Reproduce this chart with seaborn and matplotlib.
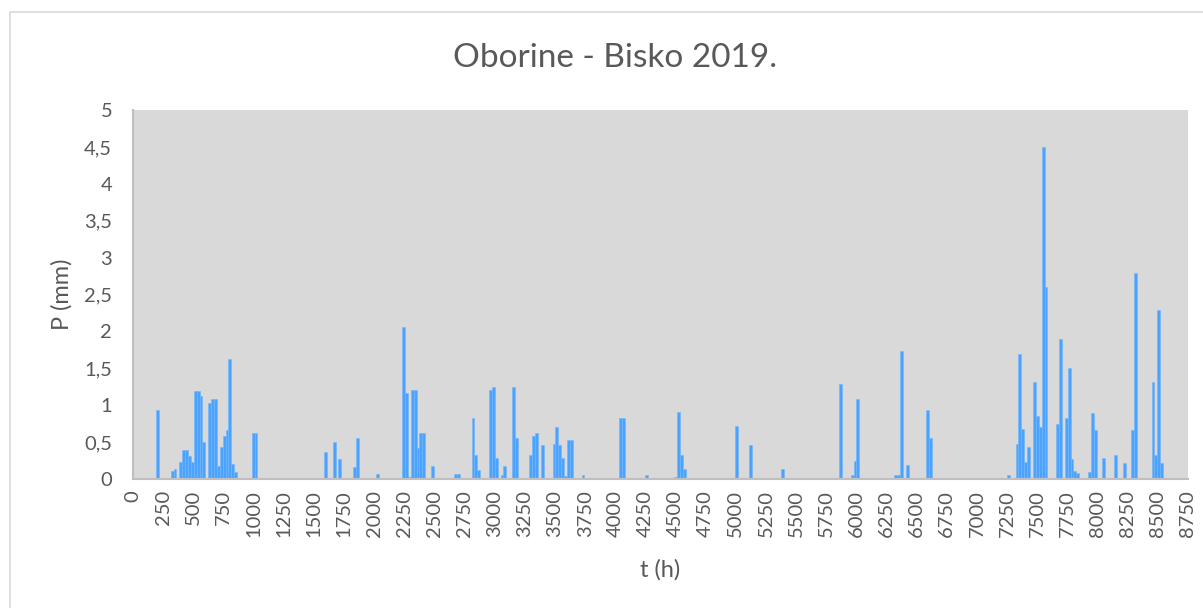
import numpy as np
import pandas as pd
import matplotlib
matplotlib.use('Agg')
import matplotlib.pyplot as plt
from matplotlib.patches import Rectangle
from matplotlib.ticker import FuncFormatter
import seaborn as sns

# hourly time (centre of each rainy day) and daily precipitation
t_hours = [204, 324, 348, 396, 420, 444, 468, 492, 516, 540, 564, 588,
           636, 660, 684, 708, 732, 756, 780, 804, 828, 852, 996, 1020,
           1596, 1668, 1716, 1836, 1860, 2028,
           2244, 2268, 2292, 2316, 2340, 2364, 2388, 2412, 2484, 2676, 2700,
           2820, 2844, 2868, 2964, 2988, 3012, 3060, 3084, 3156, 3180,
           3300, 3324, 3348, 3396, 3492, 3516, 3540, 3564, 3588, 3612, 3636,
           3708, 3732, 4044, 4068, 4260,
           4500, 4524, 4548, 4572, 4644, 5004, 5124, 5388,
           5868, 5964, 5988, 6012, 6324, 6348, 6372, 6420, 6588, 6612, 6900,
           7260, 7332, 7356, 7380, 7404, 7428, 7476, 7500, 7524, 7548, 7572,
           7668, 7692, 7740, 7764, 7788, 7812, 7836, 7932, 7956, 7980,
           8052, 8148, 8220, 8292, 8316, 8460, 8484, 8508, 8532]
p_mm = [0.93, 0.11, 0.13, 0.23, 0.39, 0.39, 0.31, 0.23, 1.19, 1.19, 1.12, 0.50,
        1.03, 1.08, 1.08, 0.17, 0.44, 0.58, 0.66, 1.63, 0.20, 0.09, 0.63, 0.63,
        0.36, 0.50, 0.27, 0.16, 0.55, 0.07,
        2.06, 1.17, 0.03, 1.21, 1.21, 0.42, 0.63, 0.62, 0.17, 0.07, 0.07,
        0.83, 0.33, 0.12, 1.20, 1.25, 0.29, 0.06, 0.17, 1.24, 0.55,
        0.33, 0.58, 0.62, 0.46, 0.48, 0.70, 0.46, 0.29, 0.04, 0.53, 0.53,
        0.02, 0.05, 0.83, 0.83, 0.05,
        0.03, 0.91, 0.33, 0.14, 0.02, 0.72, 0.46, 0.14,
        1.29, 0.05, 0.24, 1.08, 0.05, 0.05, 1.73, 0.19, 0.94, 0.55, 0.02,
        0.05, 0.48, 1.70, 0.68, 0.23, 0.44, 1.32, 0.86, 0.70, 4.50, 2.60,
        0.75, 1.90, 0.82, 1.51, 0.27, 0.11, 0.08, 0.09, 0.89, 0.67,
        0.28, 0.33, 0.22, 0.67, 2.79, 1.32, 0.33, 2.29, 0.22]

x_ticks = list(range(0, 8751, 250))
y_ticks = [0, 0.5, 1, 1.5, 2, 2.5, 3, 3.5, 4, 4.5, 5]

TEXT = '#595959'

sns.set_style('white')
plt.rcParams['font.family'] = ['Lato', 'DejaVu Sans']

df = pd.DataFrame({'t': t_hours, 'P': p_mm})

fig = plt.figure(figsize=(12.03, 6.08), dpi=100)
ax = fig.add_axes([133 / 1203, 1 - 479 / 608, (1188 - 133) / 1203, (479 - 110) / 608])
ax.set_facecolor('#D9D9D9')

sns.barplot(data=df, x='t', y='P', native_scale=True, width=1.0,
            color='#4BA3FF', saturation=1, edgecolor='#6FB6FF', linewidth=0.4, ax=ax)

ax.set_xlim(0, 8750)
ax.set_ylim(0, 5)
ax.set_xticks(x_ticks)
ax.set_xticklabels([str(v) for v in x_ticks], rotation=90)
ax.set_yticks(y_ticks)
ax.yaxis.set_major_formatter(FuncFormatter(lambda v, _: ('%g' % v).replace('.', ',')))
ax.tick_params(axis='both', length=0, labelsize=14.5, colors=TEXT)
ax.tick_params(axis='x', pad=8)
ax.tick_params(axis='y', pad=15)

ax.set_xlabel('t (h)', fontsize=17, color=TEXT, labelpad=16)
ax.set_ylabel('P (mm)', fontsize=17, color=TEXT, labelpad=8)

for side in ['top', 'right']:
    ax.spines[side].set_visible(False)
for side in ['left', 'bottom']:
    ax.spines[side].set_color('#BFBFBF')
    ax.spines[side].set_linewidth(1.5)

fig.text(615 / 1203, 1 - 58 / 608, 'Oborine - Bisko 2019.', ha='center', va='center',
         fontsize=24, color=TEXT)

# chart frame, cut off at the right and bottom like the screenshot
fig.patches.append(Rectangle((10 / 1203, -0.1), 1.2, 1.1 - 12 / 608,
                             transform=fig.transFigure, fill=False,
                             edgecolor='#D9D9D9', linewidth=1.2))

fig.savefig('out.png', dpi=100, facecolor='white')
